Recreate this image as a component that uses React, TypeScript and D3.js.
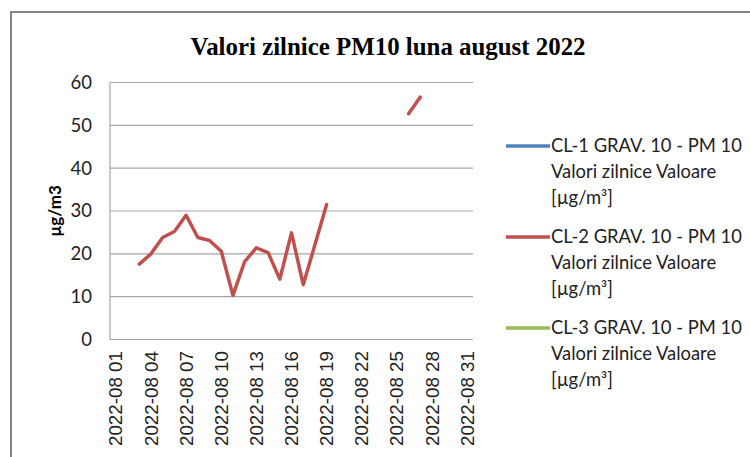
import * as d3 from "d3";

const days: string[] = d3.range(1, 32).map(d => `2022-08 ${String(d).padStart(2, "0")}`);
const tickDays: string[] = days.filter((_, i) => i % 3 === 0);

// CL-2 values, null where no measurement
const cl2Values: (number | null)[] = [
    null, null, 17.6, 20.0, 23.8, 25.2, 29.0, 23.8, 23.1, 20.6,
    10.3, 18.2, 21.4, 20.3, 14.1, 24.9, 12.8, 22.1, 31.5, null,
    null, null, null, null, null, 52.7, 56.6, null, null, null, null,
];
// CL-1 and CL-3 have no data this month
const cl1Values: (number | null)[] = days.map(() => null);
const cl3Values: (number | null)[] = days.map(() => null);

const yTicks: number[] = [0, 10, 20, 30, 40, 50, 60];

const seriesNames: string[] = ["CL-1 GRAV. 10 - PM 10", "CL-2 GRAV. 10 - PM 10", "CL-3 GRAV. 10 - PM 10"];
const seriesColors: string[] = ["#4F81BD", "#C0504D", "#9BBB59"];
const allSeries = [cl1Values, cl2Values, cl3Values];

const App = () => {
    const width = 750;
    const height = 457;
    const plot = { left: 110, right: 473, top: 82.5, bottom: 339.5 };

    const x = d3.scaleBand<string>()
        .domain(days)
        .range([plot.left, plot.right]);

    const y = d3.scaleLinear()
        .domain([0, 60])
        .range([plot.bottom, plot.top]);

    const line = d3.line<number | null>()
        .defined(d => d !== null)
        .x((_, i) => (x(days[i]) as number) + x.bandwidth() / 2)
        .y(d => y(d as number));

    const font = "Lato, 'Open Sans', sans-serif";

    return (
        <svg width={width} height={height} style={{ position: "absolute", left: 0, top: 0 }}>
            <rect x={0} y={0} width={width} height={height} fill="#fff" />
            {/* chart frame */}
            <rect x={11} y={12} width={width + 20} height={height + 20} fill="none" stroke="#868686" strokeWidth={2} />

            <text x={388} y={55} textAnchor="middle" fontFamily="'Liberation Serif', 'Times New Roman', serif"
                fontWeight="bold" fontSize={26} textLength={395} lengthAdjust="spacingAndGlyphs">Valori zilnice PM10 luna august 2022</text>

            {/* gridlines */}
            {yTicks.map(t => (
                <line key={t} x1={plot.left} x2={plot.right} y1={y(t)} y2={y(t)} stroke="#A6A6A6" strokeWidth={1.2} />
            ))}
            <line x1={plot.left} x2={plot.left} y1={plot.top} y2={plot.bottom} stroke="#A6A6A6" strokeWidth={1.2} />

            {/* y axis labels */}
            {yTicks.map(t => (
                <text key={t} x={92} y={y(t)} dy="0.35em" textAnchor="end" fontFamily={font} fontSize={18.5} fill="#222">{t}</text>
            ))}
            <text transform={`translate(55,${(plot.top + plot.bottom) / 2}) rotate(-90)`} dy="0.35em" textAnchor="middle"
                fontFamily={font} fontWeight="bold" fontSize={17}>µg/m3</text>

            {/* x axis labels */}
            {tickDays.map(d => (
                <text key={d} transform={`translate(${(x(d) as number) + x.bandwidth() / 2},351) rotate(-90)`}
                    dy="0.35em" textAnchor="end" fontFamily="'Liberation Sans', Arial, sans-serif" fontSize={18.8} fill="#222">{d}</text>
            ))}

            {/* series */}
            {allSeries.map((s, i) => (
                <path key={i} d={line(s) ?? ""} fill="none" stroke={seriesColors[i]} strokeWidth={3.5}
                    strokeLinejoin="round" strokeLinecap="round" />
            ))}

            {/* legend */}
            {seriesNames.map((name, i) => {
                const ly = 146 + i * 91;
                return (
                    <g key={name} fontFamily={font} fontSize={18.4} fill="#222">
                        <line x1={506} x2={550} y1={ly} y2={ly} stroke={seriesColors[i]} strokeWidth={3.5} />
                        <text x={551} y={ly} dy="0.35em">{name}</text>
                        <text x={551} y={ly + 26} dy="0.35em">Valori zilnice Valoare</text>
                        <text x={551} y={ly + 52} dy="0.35em">[µg/m³]</text>
                    </g>
                );
            })}
        </svg>
    );
};

export default App;
